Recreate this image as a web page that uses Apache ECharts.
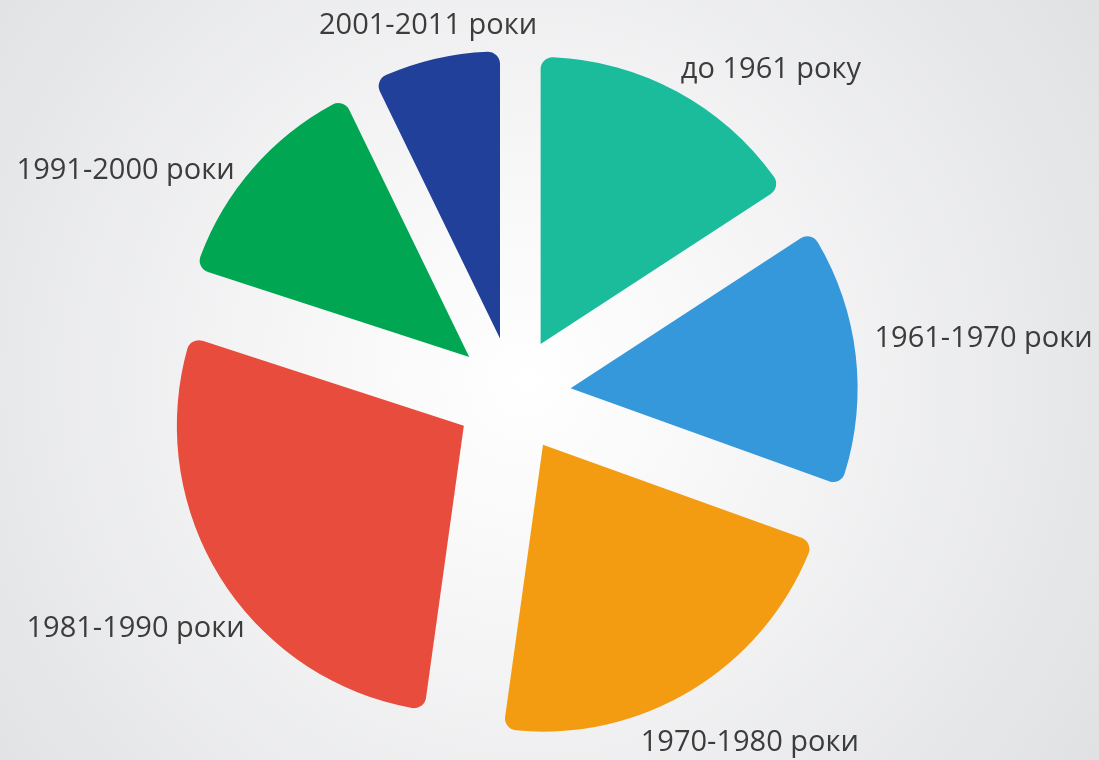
<!DOCTYPE html>
<html>
<head>
<meta charset="utf-8">
<script src="https://cdn.jsdelivr.net/npm/echarts@6/dist/echarts.min.js"></script>
<style>
html,body{margin:0;padding:0;}
#c{width:1099px;height:760px;}
</style>
</head>
<body>
<div id="c"></div>
<script>
const categories = ['до 1961 року', '1961-1970 роки', '1970-1980 роки', '1981-1990 роки', '1991-2000 роки', '2001-2011 роки'];
const values = [15.8, 14.7, 21.7, 27.8, 12.8, 7.2];
const colors = ['#1BBC9B', '#3498DB', '#F39C12', '#E84C3D', '#00A651', '#21409A'];
// small label nudges (pixels) relative to the library's outside label placement
const labelDx = [-11, -6, -66, 46, 2, 111];
const labelDy = [-4, -14, 35, 40, 15, -14];

const chart = echarts.init(document.getElementById('c'));
chart.setOption({
  backgroundColor: {
    type: 'radial', x: 0.48, y: 0.5, r: 0.9,
    colorStops: [{offset: 0, color: '#ffffff'}, {offset: 0.35, color: '#f6f6f7'}, {offset: 1, color: '#e0e1e3'}]
  },
  animation: false,
  series: [{
    type: 'pie',
    center: [513, 395],
    radius: [0, 287],
    startAngle: 90,
    clockwise: true,
    selectedMode: 'multiple',
    selectedOffset: 58,
    itemStyle: { borderRadius: 12 },
    select: { itemStyle: { borderWidth: 0 } },
    emphasis: { disabled: true },
    label: {
      show: true, position: 'outside',
      fontFamily: 'Open Sans', fontSize: 29, color: '#3c3c3c'
    },
    labelLine: { show: false, length: 20, length2: 0 },
    labelLayout: function (p) {
      return { dx: labelDx[p.dataIndex], dy: labelDy[p.dataIndex] };
    },
    data: categories.map((c, i) => ({
      name: c, value: values[i], selected: true,
      itemStyle: { color: colors[i] }
    }))
  }]
});
</script>
</body>
</html>
